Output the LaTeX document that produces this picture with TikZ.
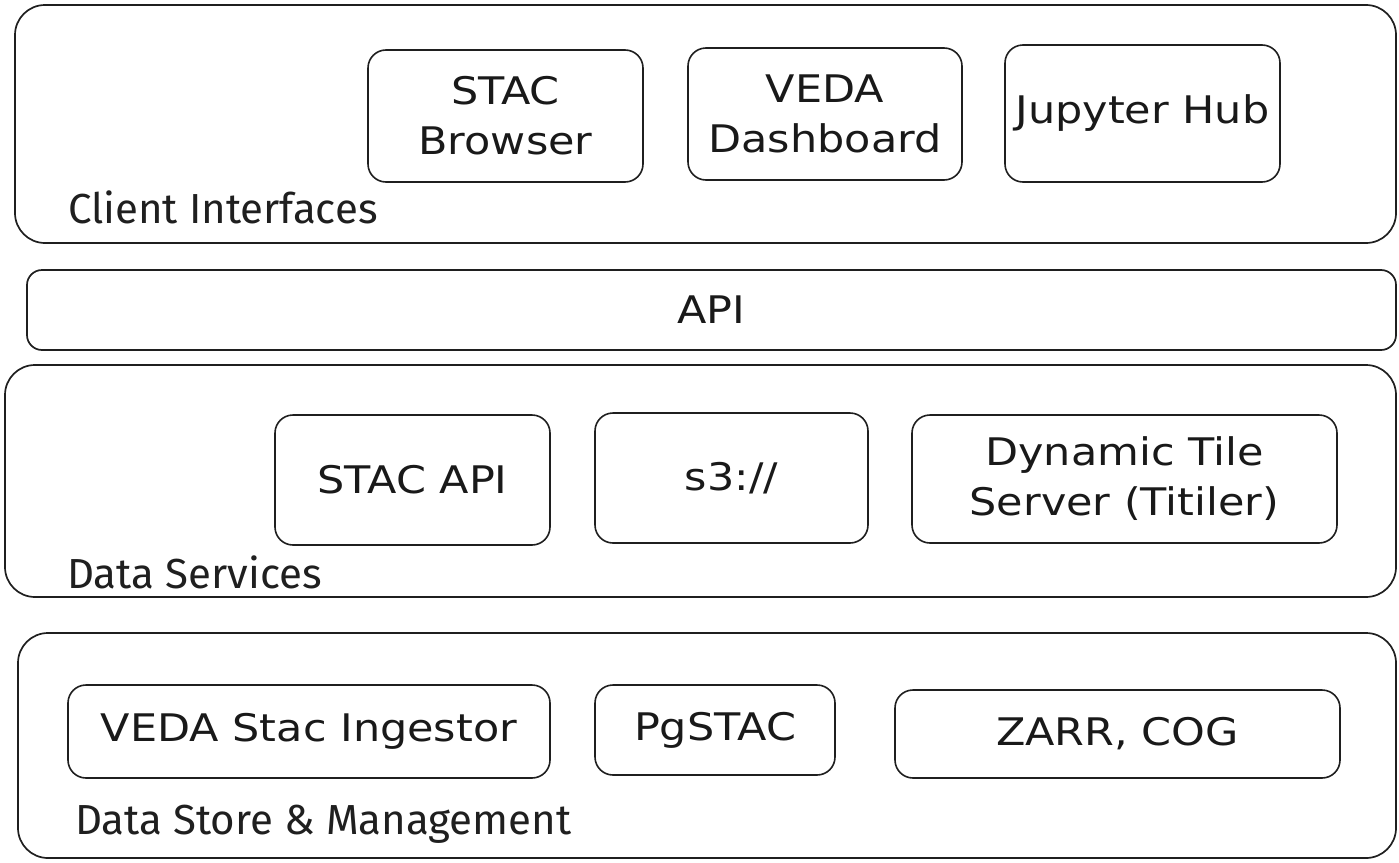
\documentclass[tikz,border=0pt]{standalone}
\usepackage{fontspec}
\setmainfont{Fira Sans}
\newfontfamily\hand[FakeStretch=1.13]{DejaVu Sans}
\begin{document}
\begin{tikzpicture}[x=1pt,y=-1pt,
  layer/.style={draw=black!88, line width=1.7pt, rounded corners=30pt, minimum width=#1},
  item/.style={draw=black!88, line width=1.6pt, rounded corners=18pt, align=center, inner sep=0pt,
    font=\hand\fontsize{38}{50}\selectfont, text=black!90},
  lbl/.style={anchor=base west, inner sep=0pt, font=\fontsize{42}{46}\selectfont, text=black!88}]
\useasboundingbox (0,0) rectangle (1399,862);
% containers
\node[layer=1381pt, minimum height=238pt] (ci) at (705.5,124) {};
\node[draw=black!88, line width=1.7pt, rounded corners=15pt, minimum width=1369pt, minimum height=80pt,
  font=\hand\fontsize{38}{44}\selectfont, text=black!90] (api) at (711.5,310) {API};
\node[layer=1391pt, minimum height=232pt] (ds) at (700.5,481) {};
\node[layer=1378pt, minimum height=225pt] (dm) at (707,745.5) {};
% labels
\node[lbl] (lci) at (68,223) {Client Interfaces};
\node[lbl] (lds) at (67,588) {Data Services};
\node[lbl] (ldm) at (75,834) {Data Store \& Management};
% client interfaces
\node[item, minimum width=275pt, minimum height=132pt] (sb) at (505.5,116) {STAC\\Browser};
\node[item, minimum width=274pt, minimum height=132pt] (vd) at (825,114) {VEDA\\Dashboard};
\node[item, minimum width=275pt, minimum height=137pt] (jh) at (1142.5,113.5) {Jupyter Hub};
% data services
\node[item, minimum width=275pt, minimum height=130pt] (sa) at (412.5,480) {STAC API};
\node[item, minimum width=273pt, minimum height=130pt] (s3) at (731.5,478) {s3://};
\node[item, minimum width=425pt, minimum height=128pt] (dt) at (1124.5,479) {Dynamic Tile\\Server (Titiler)};
% data store
\node[item, minimum width=482pt, minimum height=93pt] (vi) at (309,731.5) {VEDA Stac Ingestor};
\node[item, minimum width=240pt, minimum height=90pt] (pg) at (715,730) {PgSTAC};
\node[item, minimum width=445pt, minimum height=88pt] (zc) at (1117.5,734) {ZARR, COG};
\end{tikzpicture}
\end{document}
